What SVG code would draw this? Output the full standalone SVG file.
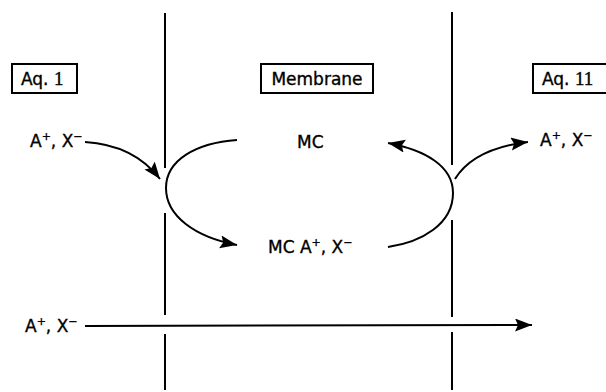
<svg xmlns="http://www.w3.org/2000/svg" width="606" height="392" viewBox="0 0 606 392">
  <style>
    .t { font-family: "DejaVu Sans", "Liberation Sans", sans-serif; font-size: 17px; fill: #000; stroke: #000; stroke-width: 0.35; }
    .sup { font-size: 11px; }
    .num { font-family: "Liberation Serif", serif; font-size: 19px; }
    .wall { stroke: #000; stroke-width: 2; fill: none; }
    .box { stroke: #000; stroke-width: 2; fill: #fff; }
    .flow { stroke: #000; stroke-width: 2; fill: none; marker-end: url(#head); }
  </style>
  <defs>
    <marker id="head" markerUnits="userSpaceOnUse" markerWidth="20" markerHeight="16" refX="17" refY="6.5" orient="auto">
      <path d="M0,0 L17,6.5 L0,13 L3,6.5 z" fill="#000"/>
    </marker>
  </defs>
  <rect width="606" height="392" fill="#fff"/>

  <!-- membrane boundaries, broken where the carrier loop and the direct flux cross -->
  <g id="walls">
    <path class="wall" d="M165,13 V168 M165,213 V315 M165,334 V390"/>
    <path class="wall" d="M452,12 V165 M452,220 V317 M452,332 V390"/>
  </g>

  <!-- phase labels -->
  <g id="aq1">
    <rect class="box" x="12" y="64" width="65" height="29"/>
    <text class="t" x="21" y="85">Aq. <tspan class="num">1</tspan></text>
  </g>
  <g id="membrane">
    <rect class="box" x="261" y="64" width="112" height="29"/>
    <text class="t" x="317" y="85" text-anchor="middle">Membrane</text>
  </g>
  <g id="aq2">
    <rect class="box" x="533" y="64" width="80" height="29"/>
    <text class="t" x="542" y="85">Aq. <tspan class="num">11</tspan></text>
  </g>

  <!-- species -->
  <g id="ions-in">
    <text class="t" x="30" y="147">A<tspan class="sup" dy="-7">+</tspan><tspan dy="7">, X</tspan><tspan class="sup" dy="-7">−</tspan></text>
  </g>
  <g id="carrier">
    <text class="t" x="297" y="148">MC</text>
  </g>
  <g id="complex">
    <text class="t" x="268" y="253">MC A<tspan class="sup" dy="-7">+</tspan><tspan dy="7">, X</tspan><tspan class="sup" dy="-7">−</tspan></text>
  </g>
  <g id="ions-out">
    <text class="t" x="540" y="146">A<tspan class="sup" dy="-7">+</tspan><tspan dy="7">, X</tspan><tspan class="sup" dy="-7">−</tspan></text>
  </g>
  <g id="ions-direct">
    <text class="t" x="25" y="332">A<tspan class="sup" dy="-7">+</tspan><tspan dy="7">, X</tspan><tspan class="sup" dy="-7">−</tspan></text>
  </g>

  <g id="connectors">
    <!-- uptake into the left interface -->
    <path class="flow" d="M85,142 C118,144 143,157 160,179"/>
    <!-- carrier loads at the left interface -->
    <path class="flow" d="M237,140 C196,143 166,160 166,188 C166,216 195,237 237,245"/>
    <!-- complex releases at the right interface and carrier returns -->
    <path class="flow" d="M388,247 C422,242 453,224 453,193 C453,166 425,150 388,143"/>
    <!-- release into the second aqueous phase -->
    <path class="flow" d="M455,179 C468,158 495,146 528,142"/>
    <!-- direct leakage across the membrane -->
    <path class="flow" d="M85,326 L532,325"/>
  </g>
</svg>
